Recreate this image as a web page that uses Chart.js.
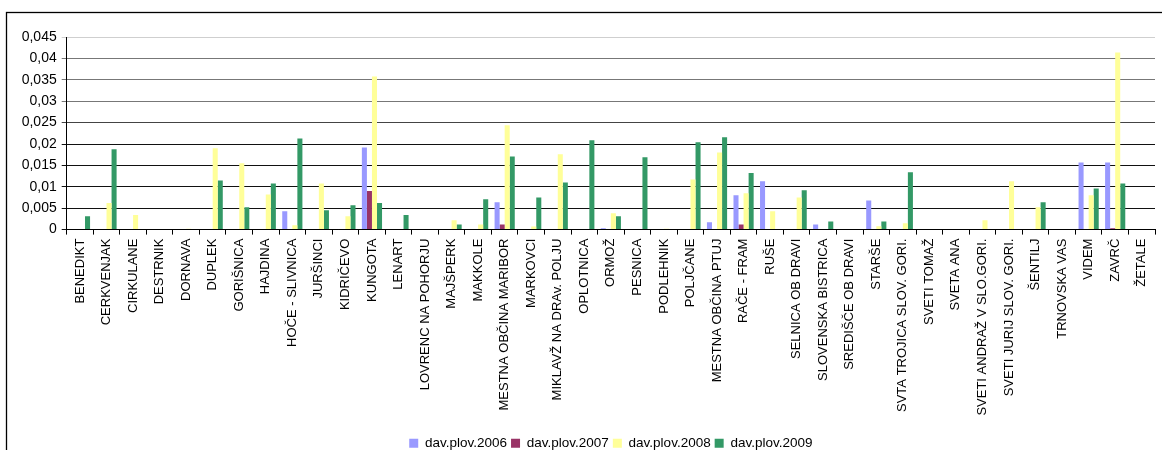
<!DOCTYPE html>
<html>
<head>
<meta charset="utf-8">
<script src="https://cdn.jsdelivr.net/npm/chart.js@4.4.1/dist/chart.umd.min.js"></script>
<style>
    body { margin: 0; background: #fff; }
    canvas { display: block; }
</style>
</head>
<body>
<canvas id="myChart" width="1162" height="450"></canvas>
<script>
const municipalities = [
    "BENEDIKT", "CERKVENJAK", "CIRKULANE", "DESTRNIK", "DORNAVA", "DUPLEK",
    "GORIŠNICA", "HAJDINA", "HOČE - SLIVNICA", "JURŠINCI", "KIDRIČEVO", "KUNGOTA",
    "LENART", "LOVRENC NA POHORJU", "MAJŠPERK", "MAKKOLE", "MESTNA OBČINA MARIBOR",
    "MARKOVCI", "MIKLAVŽ NA DRAv. POLJU", "OPLOTNICA", "ORMOŽ", "PESNICA",
    "PODLEHNIK", "POLJČANE", "MESTNA OBČINA PTUJ", "RAČE - FRAM", "RUŠE",
    "SELNICA OB DRAVI", "SLOVENSKA BISTRICA", "SREDIŠČE OB DRAVI", "STARŠE",
    "SVTA TROJICA SLOV. GORI.", "SVETI TOMAŽ", "SVETA ANA", "SVETI ANDRAŽ V SLO.GORI.",
    "SVETI JURIJ SLOV. GORI.", "ŠENTILJ", "TRNOVSKA VAS", "VIDEM", "ZAVRČ", "ŽETALE"
];

const seriesNames = ["dav.plov.2006", "dav.plov.2007", "dav.plov.2008", "dav.plov.2009"];

const plov2006 = [
    0, 0, 0, 0, 0, 0, 0, 0, 0.0043, 0, 0, 0.0192,
    0, 0, 0, 0, 0.0064, 0, 0, 0, 0.0003, 0,
    0, 0, 0.0017, 0.008, 0.0113, 0, 0.0012, 0, 0.0068,
    0, 0, 0, 0, 0, 0, 0, 0.0157, 0.0157, 0
];
const plov2007 = [
    0, 0, 0, 0, 0, 0, 0, 0, 0, 0, 0, 0.009,
    0, 0, 0, 0, 0.0012, 0, 0, 0, 0, 0,
    0, 0, 0, 0.0012, 0, 0, 0, 0, 0,
    0, 0, 0, 0, 0, 0, 0, 0, 0.0003, 0
];
const plov2008 = [
    0, 0.0062, 0.0034, 0, 0.0002, 0.019, 0.0155, 0.0082, 0.001, 0.0108, 0.0031, 0.0358,
    0, 0, 0.0022, 0.0012, 0.0244, 0.0007, 0.0176, 0, 0.0038, 0,
    0.0002, 0.0117, 0.018, 0.0085, 0.0043, 0.0075, 0, 0, 0.0008,
    0.0015, 0, 0, 0.0022, 0.0113, 0.0052, 0, 0.008, 0.0414, 0
];
const plov2009 = [
    0.0031, 0.0188, 0, 0, 0, 0.0115, 0.0052, 0.0108, 0.0213, 0.0045, 0.0057, 0.0062,
    0.0034, 0, 0.0012, 0.0071, 0.0171, 0.0075, 0.011, 0.0209, 0.0031, 0.0169,
    0, 0.0204, 0.0216, 0.0132, 0, 0.0092, 0.0019, 0, 0.0019,
    0.0134, 0, 0, 0, 0, 0.0064, 0, 0.0096, 0.0108, 0
];

const seriesColors = ["#9999ff", "#993366", "#ffff99", "#339966"];
const fontFamily = "'Liberation Sans', Arial, sans-serif";

// grid lines fade out toward the top of the value axis
function gridColor(context) {
    const v = context.tick ? Math.round(context.tick.value * 1000) / 1000 : 0;
    if (v >= 0.045) return "#cfcfcf";
    if (v >= 0.03) return "#777";
    if (v >= 0.025) return "#444";
    return "#111";
}

// thin frame around the whole chart
const framePlugin = {
    id: "frame",
    beforeDraw(chart) {
        const ctx = chart.ctx;
        ctx.save();
        ctx.fillStyle = "#fff";
        ctx.fillRect(0, 0, chart.width, chart.height);
        ctx.strokeStyle = "#000";
        ctx.lineWidth = 1.3;
        ctx.strokeRect(6.5, 12.5, chart.width + 20, chart.height + 20);
        ctx.restore();
    }
};

const data = {
    labels: municipalities,
    datasets: [plov2006, plov2007, plov2008, plov2009].map((values, i) => ({
        label: seriesNames[i],
        data: values,
        backgroundColor: seriesColors[i],
        borderWidth: 0,
        categoryPercentage: 0.76,
        barPercentage: 1.0
    }))
};

const config = {
    type: "bar",
    data,
    plugins: [framePlugin],
    options: {
        responsive: false,
        animation: false,
        layout: {
            // legend sits low, so let its box run past the bottom edge
            padding: { left: 20, right: 7, top: 37, bottom: -10 }
        },
        plugins: {
            tooltip: { enabled: false },
            legend: {
                position: "bottom",
                fullSize: false,
                labels: {
                    boxWidth: 9,
                    boxHeight: 9,
                    padding: 4,
                    color: "#000",
                    font: { family: fontFamily, size: 13.5 }
                }
            }
        },
        scales: {
            x: {
                afterFit(scale) { scale.height = 202.9; },
                grid: {
                    offset: true,
                    drawOnChartArea: false,
                    tickLength: 5,
                    color: "#000"
                },
                border: { color: "#000", width: 1 },
                ticks: {
                    autoSkip: false,
                    minRotation: 90,
                    maxRotation: 90,
                    padding: 4,
                    color: "#000",
                    font: { family: fontFamily, size: 13 }
                }
            },
            y: {
                min: 0,
                max: 0.045,
                afterFit(scale) { scale.width = 46.7; },
                grid: {
                    color: gridColor,
                    tickLength: 5,
                    lineWidth: 1
                },
                border: { color: "#000", width: 1 },
                ticks: {
                    stepSize: 0.005,
                    padding: 5,
                    color: "#000",
                    font: { family: fontFamily, size: 14 },
                    callback: (value) => String(Math.round(value * 1000) / 1000).replace(".", ",")
                }
            }
        }
    }
};

const ctx = document.getElementById("myChart");
let myChart = new Chart(ctx, config);
</script>
</body>
</html>
